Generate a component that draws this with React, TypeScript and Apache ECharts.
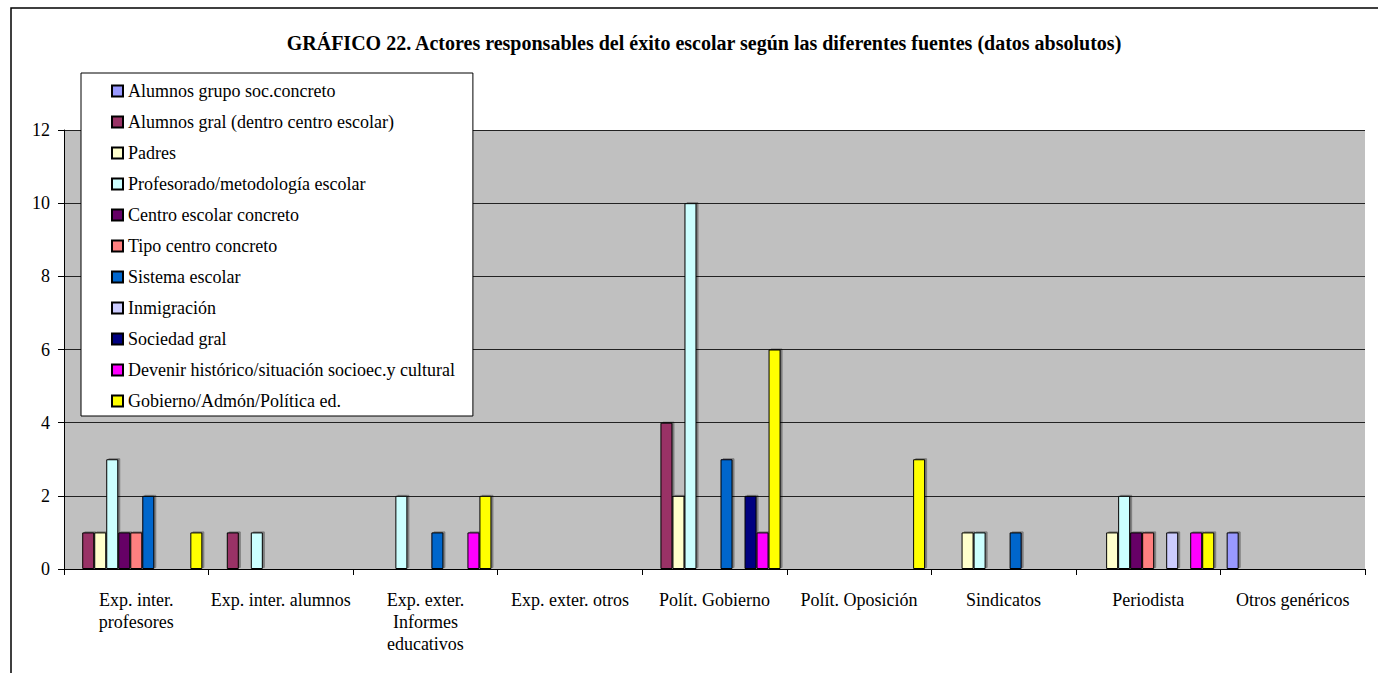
import React, { useEffect, useRef } from "react";
import * as echarts from "echarts";

const titleText =
  "GRÁFICO 22. Actores responsables del éxito escolar según las diferentes fuentes (datos absolutos)";

const categories = [
  "Exp. inter.\nprofesores",
  "Exp. inter. alumnos",
  "Exp. exter.\nInformes\neducativos",
  "Exp. exter. otros",
  "Polít. Gobierno",
  "Polít. Oposición",
  "Sindicatos",
  "Periodista",
  "Otros genéricos",
];

const seriesNames = [
  "Alumnos grupo soc.concreto",
  "Alumnos gral (dentro centro escolar)",
  "Padres",
  "Profesorado/metodología escolar",
  "Centro escolar concreto",
  "Tipo centro concreto",
  "Sistema escolar",
  "Inmigración",
  "Sociedad gral",
  "Devenir histórico/situación socioec.y cultural",
  "Gobierno/Admón/Política ed.",
];

const seriesColors = [
  "#9999FF",
  "#993366",
  "#FFFFCC",
  "#CCFFFF",
  "#660066",
  "#FF8080",
  "#0066CC",
  "#CCCCFF",
  "#000080",
  "#FF00FF",
  "#FFFF00",
];

// values per series, across the 9 categories
const alumnosGrupo = [0, 0, 0, 0, 0, 0, 0, 0, 1];
const alumnosGral = [1, 1, 0, 0, 4, 0, 0, 0, 0];
const padres = [1, 0, 0, 0, 2, 0, 1, 1, 0];
const profesorado = [3, 1, 2, 0, 10, 0, 1, 2, 0];
const centroEscolar = [1, 0, 0, 0, 0, 0, 0, 1, 0];
const tipoCentro = [1, 0, 0, 0, 0, 0, 0, 1, 0];
const sistemaEscolar = [2, 0, 1, 0, 3, 0, 1, 0, 0];
const inmigracion = [0, 0, 0, 0, 0, 0, 0, 1, 0];
const sociedadGral = [0, 0, 0, 0, 2, 0, 0, 0, 0];
const devenir = [0, 0, 1, 0, 1, 0, 0, 1, 0];
const gobierno = [1, 0, 2, 0, 6, 3, 0, 1, 0];

const seriesValues = [
  alumnosGrupo,
  alumnosGral,
  padres,
  profesorado,
  centroEscolar,
  tipoCentro,
  sistemaEscolar,
  inmigracion,
  sociedadGral,
  devenir,
  gobierno,
];

const yTicks = { min: 0, max: 12, interval: 2 };

const FONT = "Liberation Serif";

export default function App() {
  const ref = useRef<HTMLDivElement>(null);

  useEffect(() => {
    if (!ref.current) return;
    const chart = echarts.init(ref.current, null, { renderer: "svg" });
    const option = {
      animation: false,
      backgroundColor: "#FFFFFF",
      textStyle: { fontFamily: FONT },
      graphic: [
        {
          type: "rect",
          shape: { x: 11, y: 8, width: 1400, height: 700 },
          style: { fill: "none", stroke: "#000", lineWidth: 1.5 },
          silent: true,
          z: -10,
        },
        {
          type: "text",
          x: 704,
          y: 43,
          style: {
            text: titleText,
            fontFamily: FONT,
            fontWeight: "bold",
            fontSize: 20,
            fill: "#000",
            align: "center",
            verticalAlign: "middle",
          },
        },
      ],
      grid: {
        left: 64,
        right: 13,
        top: 130,
        bottom: 104,
        show: true,
        backgroundColor: "#C0C0C0",
        borderWidth: 0,
      },
      legend: {
        orient: "vertical",
        left: 81,
        top: 73,
        backgroundColor: "#FFFFFF",
        borderColor: "#000",
        borderWidth: 1,
        padding: [8, 18, 5, 30],
        icon: "rect",
        itemWidth: 11,
        itemHeight: 11,
        itemGap: 11,
        textStyle: {
          fontFamily: FONT,
          fontSize: 18,
          lineHeight: 20,
          color: "#000",
        },
        data: seriesNames,
      },
      xAxis: {
        type: "category",
        data: categories,
        axisLine: { lineStyle: { color: "#000", width: 1 } },
        axisTick: { show: true, length: 6, lineStyle: { color: "#000" } },
        axisLabel: {
          interval: 0,
          fontFamily: FONT,
          fontSize: 18,
          lineHeight: 22,
          color: "#000",
          margin: 20,
        },
        splitLine: { show: false },
      },
      yAxis: {
        type: "value",
        min: yTicks.min,
        max: yTicks.max,
        interval: yTicks.interval,
        axisLine: { show: true, lineStyle: { color: "#000", width: 1 } },
        axisTick: { show: true, length: 6, lineStyle: { color: "#000" } },
        axisLabel: {
          fontFamily: FONT,
          fontSize: 18,
          color: "#000",
          margin: 14,
        },
        splitLine: { show: true, lineStyle: { color: "#222", width: 1 } },
      },
      series: seriesNames.map((name, i) => ({
        name,
        type: "bar",
        data: seriesValues[i],
        barGap: "0%",
        barCategoryGap: "8.6%",
        itemStyle: {
          color: seriesColors[i],
          borderColor: "#000",
          borderWidth: 1,
          shadowColor: "rgba(0,0,0,0.35)",
          shadowOffsetX: 2,
          shadowOffsetY: -1,
        },
      })),
    };
    chart.setOption(option as any);
    return () => chart.dispose();
  }, []);

  return (
    <div
      ref={ref}
      style={{ position: "absolute", left: 0, top: 0, width: 1378, height: 673 }}
    />
  );
}
